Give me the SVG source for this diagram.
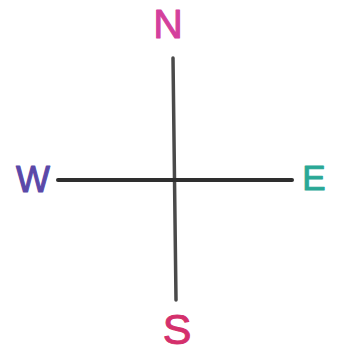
<svg xmlns="http://www.w3.org/2000/svg" width="341" height="354" viewBox="0 0 341 354">
<style>
.lbl{font-family:"Liberation Sans",Arial,sans-serif;text-anchor:middle;font-weight:normal;stroke-width:1;stroke-linejoin:round}
.ax{stroke-linecap:round;fill:none}
</style>
<rect width="341" height="354" fill="#ffffff"/>
<g id="connectors">
<path class="ax" d="M173 58 L176 300" stroke="#4a4a4a" stroke-width="3.5"/>
<path class="ax" d="M58 180 L292 180" stroke="#2e2e2e" stroke-width="4"/>
</g>
<g id="north"><text class="lbl" x="168" y="38" font-size="41" fill="#d4409c" stroke="#d4409c">N</text></g>
<g id="west"><text class="lbl" x="33" y="192" font-size="36" fill="#5a48a8" stroke="#5a48a8">W</text></g>
<g id="east"><text class="lbl" x="314" y="190" font-size="35" fill="#2aa896" stroke="#2aa896">E</text></g>
<g id="south"><text class="lbl" x="177" y="344" font-size="43" fill="#d4306c" stroke="#d4306c">S</text></g>
</svg>
